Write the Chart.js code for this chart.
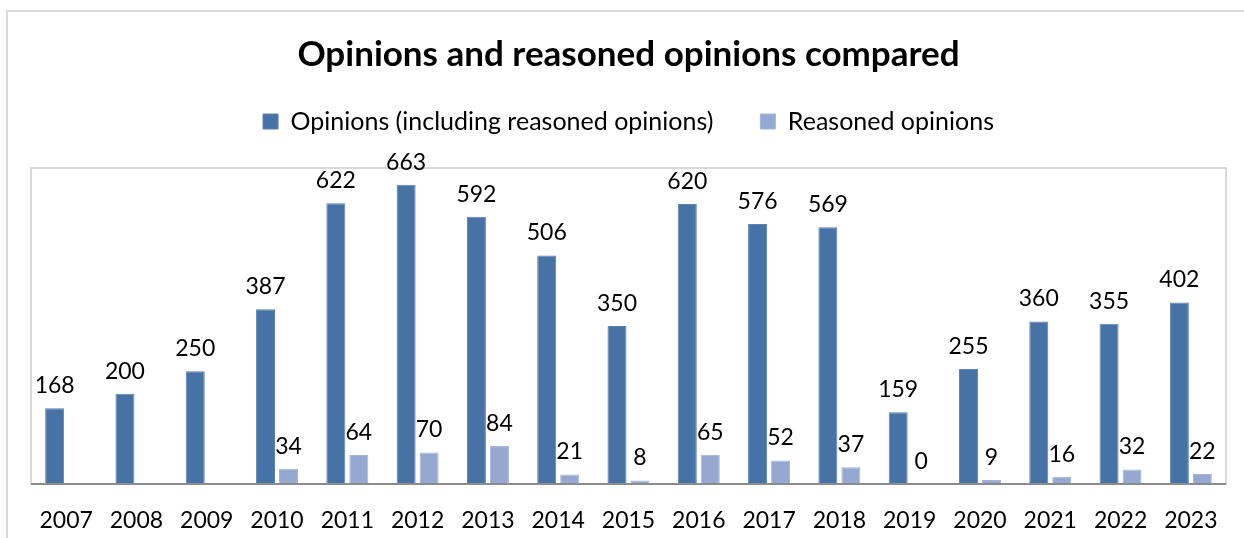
<!DOCTYPE html>
<html>
<head>
<meta charset="utf-8">
<title>Opinions and reasoned opinions compared</title>
<script src="https://cdn.jsdelivr.net/npm/chart.js@4/dist/chart.umd.min.js"></script>
<style>
  html, body { margin: 0; padding: 0; background: #fff; }
  #wrap { width: 1244px; height: 538px; position: relative; }
</style>
</head>
<body>
<div id="wrap"><canvas id="opinionsChart"></canvas></div>
<script>
'use strict';

// ----- data -----
const years = ['2007', '2008', '2009', '2010', '2011', '2012', '2013', '2014', '2015',
               '2016', '2017', '2018', '2019', '2020', '2021', '2022', '2023'];
const opinions = [168, 200, 250, 387, 622, 663, 592, 506, 350, 620, 576, 569, 159, 255, 360, 355, 402];
const reasoned = [null, null, null, 34, 64, 70, 84, 21, 8, 65, 52, 37, 0, 9, 16, 32, 22];

const FONT = "Lato, 'Open Sans', sans-serif";
Chart.defaults.font.family = FONT;
Chart.defaults.color = '#000';

// outer frame + plot area frame
const framePlugin = {
  id: 'frame',
  beforeDraw(chart) {
    const { ctx, chartArea: a } = chart;
    ctx.save();
    ctx.strokeStyle = '#d9d9d9';
    ctx.lineWidth = 2;
    ctx.strokeRect(7, 11, chart.width + 20, chart.height + 20);
    ctx.strokeRect(a.left, a.top, a.right - a.left, a.bottom - a.top);
    ctx.restore();
  },
  afterDatasetsDraw(chart) {
    const { ctx, chartArea: a } = chart;
    ctx.save();
    ctx.strokeStyle = '#8c8c8c';
    ctx.lineWidth = 2;
    ctx.beginPath();
    ctx.moveTo(a.left, a.bottom);
    ctx.lineTo(a.right, a.bottom);
    ctx.stroke();
    ctx.restore();
  }
};

// value labels above each bar
const valueLabels = {
  id: 'valueLabels',
  afterDatasetsDraw(chart) {
    const { ctx } = chart;
    ctx.save();
    ctx.font = '23px ' + FONT;
    ctx.fillStyle = '#000';
    ctx.textAlign = 'center';
    ctx.textBaseline = 'bottom';
    chart.data.datasets.forEach((ds, i) => {
      chart.getDatasetMeta(i).data.forEach((bar, j) => {
        const v = ds.data[j];
        if (v === null || v === undefined) return;
        ctx.fillText(String(v), bar.x, bar.y - 11);
      });
    });
    ctx.restore();
  }
};

new Chart(document.getElementById('opinionsChart'), {
  type: 'bar',
  data: {
    labels: years,
    datasets: [
      {
        label: 'Opinions (including reasoned opinions)',
        data: opinions,
        backgroundColor: '#4672a6',
        borderColor: '#5a82b2',
        borderWidth: 1,
        categoryPercentage: 0.654,
        barPercentage: 0.826
      },
      {
        label: 'Reasoned opinions',
        data: reasoned,
        backgroundColor: '#95a8d2',
        borderColor: '#a3b4d8',
        borderWidth: 1,
        categoryPercentage: 0.654,
        barPercentage: 0.826
      }
    ]
  },
  options: {
    responsive: true,
    maintainAspectRatio: false,
    animation: false,
    layout: { padding: { left: 31, right: 18, top: 34, bottom: 0 } },
    plugins: {
      title: {
        display: true,
        text: 'Opinions and reasoned opinions compared',
        font: { size: 35, weight: 'bold' },
        color: '#000',
        padding: { top: 0, bottom: -14 }
      },
      legend: {
        position: 'top',
        labels: {
          boxWidth: 15,
          boxHeight: 15,
          padding: 47,
          font: { size: 25 },
          color: '#000'
        }
      },
      tooltip: { enabled: false }
    },
    scales: {
      x: {
        grid: { display: false },
        border: { display: false },
        ticks: { font: { size: 23 }, color: '#000', padding: 15, maxRotation: 0 },
        afterFit(scale) { scale.height = 54; }
      },
      // empty band between the legend and the plot frame
      gap: {
        type: 'category',
        position: 'top',
        grid: { display: false },
        border: { display: false },
        ticks: { display: false },
        afterFit(scale) { scale.height = 24; }
      },
      y: {
        display: false,
        min: 0,
        max: 700
      }
    }
  },
  plugins: [framePlugin, valueLabels]
});
</script>
</body>
</html>
